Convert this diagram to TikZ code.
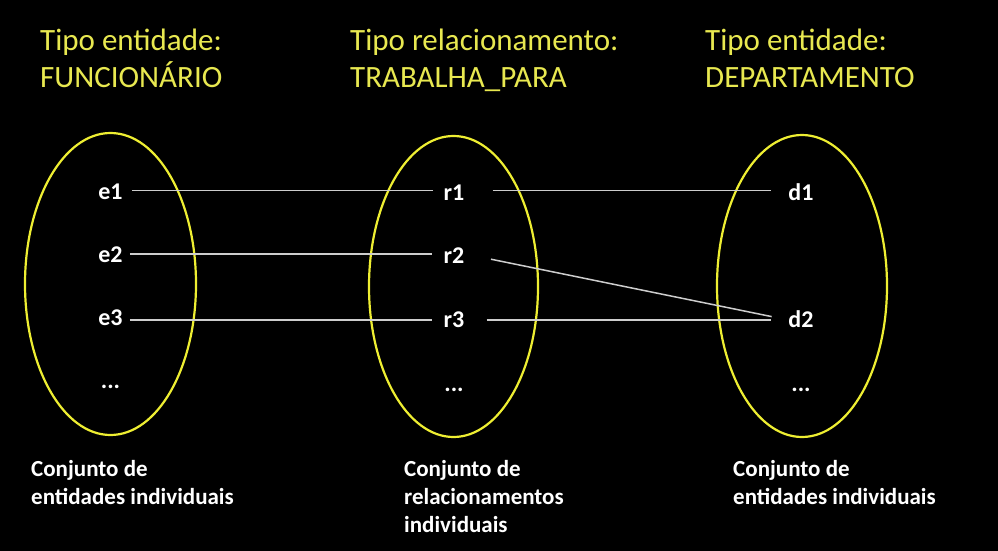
\documentclass[tikz,border=0pt]{standalone}
\usepackage{fontspec}
\setmainfont{Carlito}
\usetikzlibrary{shapes.geometric}
\definecolor{titleyellow}{RGB}{232,232,80}
\definecolor{setyellow}{RGB}{238,238,50}
\definecolor{linkgray}{RGB}{205,205,205}
\begin{document}
\begin{tikzpicture}[x=1pt,y=-1pt,
  title/.style={anchor=north west, inner sep=0pt, align=left, text=titleyellow, font=\fontsize{31}{37}\selectfont},
  caption/.style={anchor=north west, inner sep=0pt, align=left, text=white, font=\fontsize{23}{28}\selectfont\bfseries},
  member/.style={anchor=base, inner sep=0pt, text=white, font=\fontsize{24}{28}\selectfont\bfseries},
  setshape/.style={ellipse, draw=setyellow, line width=2.2pt, inner sep=0pt},
  link/.style={draw=linkgray, line width=1.5pt}]
\path[use as bounding box, fill=black] (0,0) rectangle (998,551);

% titles
\node[title] (t1) at (40,29) {Tipo entidade:\\FUNCIONÁRIO};
\node[title] (t2) at (350,29) {Tipo relacionamento:\\TRABALHA\_PARA};
\node[title] (t3) at (705,29) {Tipo entidade:\\DEPARTAMENTO};

% sets
\node[setshape, minimum width=171pt, minimum height=302pt] (setE) at (110.5,284) {};
\node[setshape, minimum width=169pt, minimum height=301pt] (setR) at (453.5,286.5) {};
\node[setshape, minimum width=170pt, minimum height=302pt] (setD) at (802,286) {};

% members
\node[member] (e1) at (110.5,199) {e1};
\node[member] (e2) at (110.5,262) {e2};
\node[member] (e3) at (110.5,325) {e3};
\node[member] (edots) at (110.5,388) {...};
\node[member] (r1) at (454,200) {r1};
\node[member] (r2) at (454,263) {r2};
\node[member] (r3) at (454,327) {r3};
\node[member] (rdots) at (454,391) {...};
\node[member] (d1) at (801,200) {d1};
\node[member] (d2) at (801,327) {d2};
\node[member] (ddots) at (801,391) {...};

% anchors for line heights
\coordinate (l1) at (0,190.3);
\coordinate (l2) at (0,253.8);
\coordinate (l3) at (0,320);

% connectors
\draw[link, shorten <=9pt, shorten >=10pt] (e1.east |- l1) -- (r1.west |- l1);
\draw[link, shorten <=7pt, shorten >=11pt] (e2.east |- l2) -- (r2.west |- l2);
\draw[link, shorten <=7pt, shorten >=11pt] (e3.east |- l3) -- (r3.west |- l3);
\draw[link, shorten <=28pt, shorten >=17pt] (r1.east |- l1) -- (d1.west |- l1);
\draw[link, shorten <=22pt, shorten >=17pt] (r3.east |- l3) -- (d2.west |- l3);
\draw[link, shorten <=27pt, shorten >=17pt] (r2.east |- l2) -- (d2.west |- l3);

% captions
\node[caption] (c1) at (31,460) {Conjunto de\\entidades individuais};
\node[caption] (c2) at (404,460) {Conjunto de\\relacionamentos\\individuais};
\node[caption] (c3) at (733,460) {Conjunto de\\entidades individuais};
\end{tikzpicture}
\end{document}
